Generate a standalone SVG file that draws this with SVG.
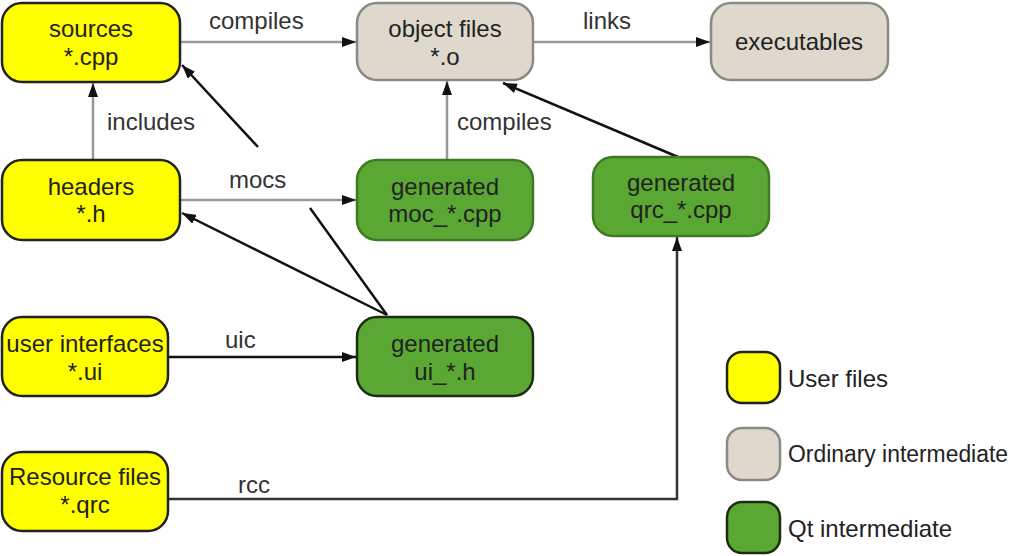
<svg xmlns="http://www.w3.org/2000/svg" width="1012" height="556" viewBox="0 0 1012 556">
<defs>
<marker id="ah" viewBox="0 0 14 10" refX="14" refY="5" markerWidth="14" markerHeight="10" markerUnits="userSpaceOnUse" orient="auto">
<path d="M0,0 L14,5 L0,10 Z" fill="#111"/>
</marker>
<style>
.user{fill:#ffff00;stroke:#222;stroke-width:2.5}
.ord{fill:#ded9cc;stroke:#8a8a82;stroke-width:2.5}
.qt{fill:#5aa833;stroke:#3f7a25;stroke-width:2.5}
.qtd{fill:#5aa833;stroke:#1c2e12;stroke-width:2.5}
text{font-family:"Liberation Sans",Arial,sans-serif;font-size:24px;fill:#222}
.n{text-anchor:middle}
.lbl{fill:#333}
.g{stroke:#999;stroke-width:2.5;fill:none}
.b{stroke:#111;stroke-width:2.5;fill:none}
</style>
</defs>
<g id="connectors">
<line class="g" x1="181" y1="42" x2="356" y2="42" marker-end="url(#ah)"/>
<line class="g" x1="534" y1="42" x2="710" y2="42" marker-end="url(#ah)"/>
<line class="g" x1="93" y1="160" x2="93" y2="83" marker-end="url(#ah)"/>
<line class="g" x1="447" y1="160" x2="447" y2="81" marker-end="url(#ah)"/>
<line class="g" x1="181" y1="200" x2="356" y2="200" marker-end="url(#ah)"/>
<line class="b" x1="168" y1="357" x2="356" y2="357" marker-end="url(#ah)"/>
<line class="b" x1="387" y1="315" x2="182" y2="213" marker-end="url(#ah)"/>
<line class="b" x1="387" y1="315" x2="310" y2="208"/>
<line class="b" x1="258" y1="147" x2="182" y2="65" marker-end="url(#ah)"/>
<line class="b" x1="678" y1="157" x2="503" y2="83" marker-end="url(#ah)"/>
<path d="M168,499 L677,499 L677,237" stroke="#333" stroke-width="2.5" fill="none" marker-end="url(#ah)"/>
<text class="lbl" x="209" y="29">compiles</text>
<text class="lbl" x="583" y="29">links</text>
<text class="lbl" x="107" y="130">includes</text>
<text class="lbl" x="457" y="130">compiles</text>
<text class="lbl" x="229" y="188">mocs</text>
<text class="lbl" x="225" y="348">uic</text>
<text class="lbl" x="238" y="493">rcc</text>
</g>
<g id="sources"><rect class="user" x="2" y="3" width="178" height="79" rx="20"/><text class="n" x="91" y="37">sources</text><text class="n" x="91" y="65">*.cpp</text></g>
<g id="objects"><rect class="ord" x="357" y="3" width="176" height="77" rx="20"/><text class="n" x="445" y="37">object files</text><text class="n" x="445" y="65">*.o</text></g>
<g id="executables"><rect class="ord" x="711" y="3" width="177" height="77" rx="20"/><text class="n" x="799" y="50">executables</text></g>
<g id="headers"><rect class="user" x="2" y="160" width="178" height="80" rx="20"/><text class="n" x="91" y="195">headers</text><text class="n" x="91" y="222">*.h</text></g>
<g id="moc"><rect class="qt" x="357" y="160" width="176" height="80" rx="20"/><text class="n" x="445" y="195">generated</text><text class="n" x="445" y="222">moc_*.cpp</text></g>
<g id="qrc"><rect class="qt" x="593" y="157" width="176" height="79" rx="20"/><text class="n" x="681" y="191">generated</text><text class="n" x="681" y="218">qrc_*.cpp</text></g>
<g id="ui"><rect class="user" x="2" y="317" width="166" height="79" rx="20"/><text class="n" x="85" y="352">user interfaces</text><text class="n" x="85" y="380">*.ui</text></g>
<g id="uih"><rect class="qtd" x="357" y="317" width="176" height="79" rx="20"/><text class="n" x="445" y="352">generated</text><text class="n" x="445" y="380">ui_*.h</text></g>
<g id="resources"><rect class="user" x="2" y="452" width="166" height="79" rx="20"/><text class="n" x="85" y="485">Resource files</text><text class="n" x="85" y="513">*.qrc</text></g>
<g id="legend">
<rect class="user" x="727" y="352" width="53" height="51" rx="15"/><text x="788" y="387">User files</text>
<rect class="ord" x="727" y="428" width="53" height="52" rx="15"/><text x="788" y="462" style="font-size:23px" textLength="220" lengthAdjust="spacingAndGlyphs">Ordinary intermediate</text>
<rect class="qtd" x="727" y="502" width="53" height="51" rx="15"/><text x="788" y="537">Qt intermediate</text>
</g>
</svg>
